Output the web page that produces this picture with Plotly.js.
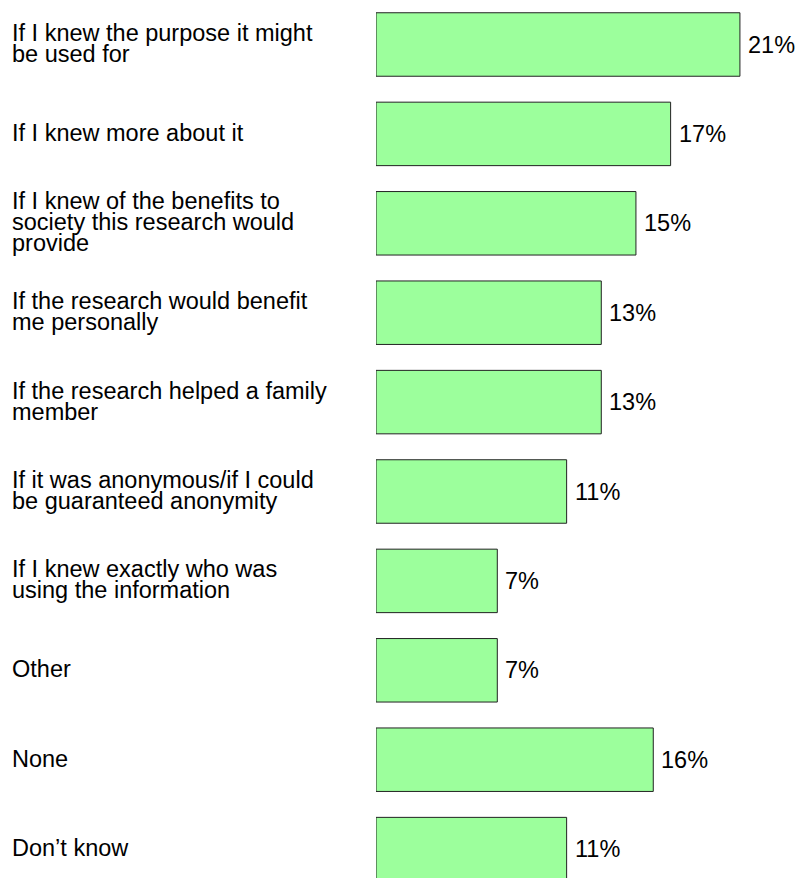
<!DOCTYPE html>
<html>
<head>
<meta charset="utf-8">
<script src="https://cdn.plot.ly/plotly-3.0.1.min.js"></script>
<style>
html, body { margin: 0; padding: 0; background: #ffffff; overflow: hidden; }
#chart { width: 802px; height: 878px; }
</style>
</head>
<body>
<div id="chart"></div>
<script>
// ---- data ----
var labelLines = [
  ["If I knew the purpose it might", "be used for"],
  ["If I knew more about it"],
  ["If I knew of the benefits to", "society this research would", "provide"],
  ["If the research would benefit", "me personally"],
  ["If the research helped a family", "member"],
  ["If it was anonymous/if I could", "be guaranteed anonymity"],
  ["If I knew exactly who was", "using the information"],
  ["Other"],
  ["None"],
  ["Don\u2019t know"]
];
var categories = labelLines.map(function (l) { return l.join(" "); });
var values = [21, 17, 15, 13, 13, 11, 7, 7, 16, 11];
var valueLabels = ["21%", "17%", "15%", "13%", "13%", "11%", "7%", "7%", "16%", "11%"];

// ---- layout constants ----
var W = 802, H = 878;
var plotLeft = 376;
var pxPerUnit = 17.33;
var bandPx = 89.4;
var firstCenter = 44.5;
var fontFamily = "Liberation Sans, Arial, sans-serif";
var fontSize = 23.5;
var lineGap = 21;
var labelX = 10;

var plotW = W - plotLeft;
var xMax = plotW / pxPerUnit;
var yTop = -firstCenter / bandPx;
var yBottom = yTop + H / bandPx;

var annotations = [];
labelLines.forEach(function (lines, i) {
  var n = lines.length;
  lines.forEach(function (line, j) {
    annotations.push({
      xref: "paper", yref: "y",
      x: -(plotLeft - labelX) / plotW, y: categories[i],
      xanchor: "left", yanchor: "middle",
      yshift: ((n - 1) / 2 - j) * lineGap + 1,
      text: line, showarrow: false,
      font: { family: fontFamily, size: fontSize, color: "#000000" }
    });
  });
});
values.forEach(function (v, i) {
  annotations.push({
    xref: "x", yref: "y", x: v, y: categories[i],
    xanchor: "left", yanchor: "middle", xshift: 6,
    text: valueLabels[i], showarrow: false,
    font: { family: fontFamily, size: fontSize, color: "#000000" }
  });
});

var trace = {
  type: "bar",
  orientation: "h",
  x: values,
  y: categories,
  marker: { color: "#9CFF9C", line: { color: "#222222", width: 1 } },
  hoverinfo: "none"
};

var layout = {
  width: W, height: H,
  margin: { l: plotLeft, r: 0, t: 0, b: 0, pad: 0 },
  paper_bgcolor: "#ffffff",
  plot_bgcolor: "#ffffff",
  showlegend: false,
  bargap: 0.29,
  xaxis: { range: [0, xMax], visible: false, showgrid: false, zeroline: false },
  yaxis: {
    type: "category", categoryorder: "array", categoryarray: categories,
    range: [yBottom, yTop], visible: false, showgrid: false, zeroline: false
  },
  annotations: annotations
};

Plotly.newPlot("chart", [trace], layout, { displayModeBar: false, staticPlot: true });
</script>
</body>
</html>
